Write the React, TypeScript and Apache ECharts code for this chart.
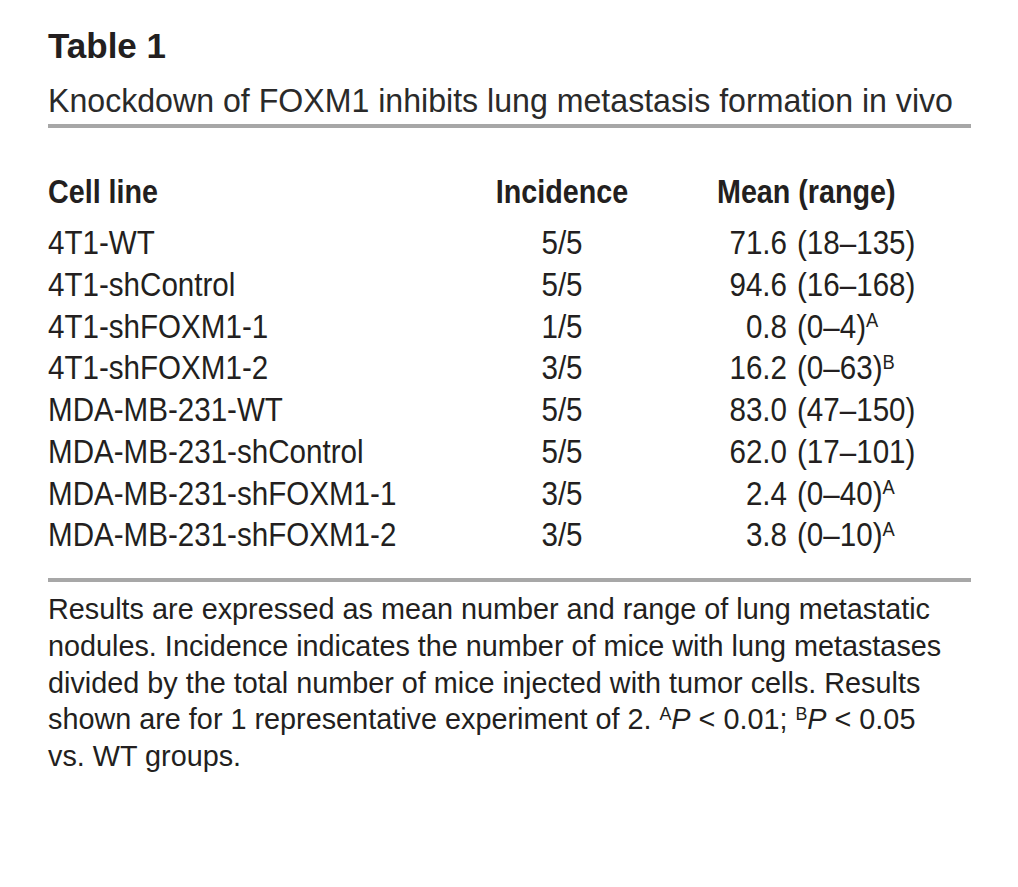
import React, { useEffect, useRef } from "react";
import * as echarts from "echarts";

// ---- Data ----
const tableNumber = "Table 1";
const tableTitle = "Knockdown of FOXM1 inhibits lung metastasis formation in vivo";
const columnHeaders = ["Cell line", "Incidence", "Mean (range)"];
const cellLines = [
  "4T1-WT",
  "4T1-shControl",
  "4T1-shFOXM1-1",
  "4T1-shFOXM1-2",
  "MDA-MB-231-WT",
  "MDA-MB-231-shControl",
  "MDA-MB-231-shFOXM1-1",
  "MDA-MB-231-shFOXM1-2",
];
const miceWithMetastases = [5, 5, 1, 3, 5, 5, 3, 3];
const miceInjected = [5, 5, 5, 5, 5, 5, 5, 5];
const meanNodules = [71.6, 94.6, 0.8, 16.2, 83.0, 62.0, 2.4, 3.8];
const rangeMin = [18, 16, 0, 0, 47, 17, 0, 0];
const rangeMax = [135, 168, 4, 63, 150, 101, 40, 10];
const significance = ["", "", "A", "B", "", "", "A", "A"];
const footnoteLines = [
  "Results are expressed as mean number and range of lung metastatic",
  "nodules. Incidence indicates the number of mice with lung metastases",
  "divided by the total number of mice injected with tumor cells. Results",
  "shown are for 1 representative experiment of 2. {s|A}{i|P} < 0.01; {s|B}{i|P} < 0.05",
  "vs. WT groups.",
];

// ---- Style / layout ----
const FONT = '"Liberation Sans", Arial, Helvetica, sans-serif';
const INK = "#231f20";
const RULE = "#a7a7a7";
const LEFT = 48;
const RIGHT = 971;

export default function App() {
  const ref = useRef<HTMLDivElement>(null);

  useEffect(() => {
    document.body.style.margin = "0";
    if (!ref.current) return;
    const chart = echarts.init(ref.current, undefined, { renderer: "svg" });

    const bodySize = 34;
    const bodyScale = 0.87;
    const rowY0 = 242.5;
    const rowStep = 41.75;
    const incX = 562;
    const meanRightX = 787;
    const rangeX = 797;

    const txt = (
      text: string,
      x: number,
      y: number,
      size: number,
      opts: any = {}
    ) => ({
      type: "text",
      x,
      y,
      scaleX: opts.scaleX ?? 1,
      silent: true,
      style: {
        text,
        fill: opts.fill ?? INK,
        fontSize: size,
        fontFamily: FONT,
        fontWeight: opts.weight ?? "normal",
        align: opts.align ?? "left",
        textAlign: opts.align ?? "left",
        verticalAlign: "middle",
        textVerticalAlign: "middle",
        rich: opts.rich,
      },
    });

    const supRich = (size: number) => ({
      s: {
        fontSize: size * 0.62,
        fontFamily: FONT,
        fill: INK,
        verticalAlign: "top",
      },
      i: {
        fontSize: size,
        fontFamily: FONT,
        fontStyle: "italic",
        fill: INK,
      },
    });

    const elements: any[] = [];
    elements.push(txt(tableNumber, LEFT, 45, 35, { weight: "bold" }));
    elements.push(txt(tableTitle, LEFT, 100, 34, { scaleX: 0.945, fill: "#2a2a2a" }));
    elements.push({
      type: "rect",
      silent: true,
      shape: { x: LEFT, y: 124, width: RIGHT - LEFT, height: 4 },
      style: { fill: RULE },
    });

    // headers
    const headerY = 192;
    elements.push(txt(columnHeaders[0], LEFT, headerY, 33, { weight: "bold", scaleX: 0.87 }));
    elements.push(
      txt(columnHeaders[1], incX, headerY, 33, { weight: "bold", scaleX: 0.87, align: "center" })
    );
    elements.push(txt(columnHeaders[2], 717, headerY, 33, { weight: "bold", scaleX: 0.87 }));

    cellLines.forEach((name, i) => {
      const y = rowY0 + i * rowStep;
      elements.push(txt(name, LEFT, y, bodySize, { scaleX: bodyScale }));
      elements.push(
        txt(`${miceWithMetastases[i]}/${miceInjected[i]}`, incX, y, bodySize, {
          scaleX: bodyScale,
          align: "center",
        })
      );
      elements.push(
        txt(meanNodules[i].toFixed(1), meanRightX, y, bodySize, {
          scaleX: bodyScale,
          align: "right",
        })
      );
      const sig = significance[i] ? `{s|${significance[i]}}` : "";
      elements.push(
        txt(`(${rangeMin[i]}\u2013${rangeMax[i]})${sig}`, rangeX, y, bodySize, {
          scaleX: bodyScale,
          rich: supRich(bodySize),
        })
      );
    });

    elements.push({
      type: "rect",
      silent: true,
      shape: { x: LEFT, y: 578, width: RIGHT - LEFT, height: 4 },
      style: { fill: RULE },
    });

    const footSize = 28.8;
    footnoteLines.forEach((line, i) => {
      elements.push(
        txt(line, LEFT, 609 + i * 36.8, footSize, { rich: supRich(footSize) })
      );
    });

    chart.setOption({
      animation: false,
      backgroundColor: "#ffffff",
      graphic: { elements },
    });

    return () => chart.dispose();
  }, []);

  return <div ref={ref} style={{ width: 1018, height: 887 }} />;
}
